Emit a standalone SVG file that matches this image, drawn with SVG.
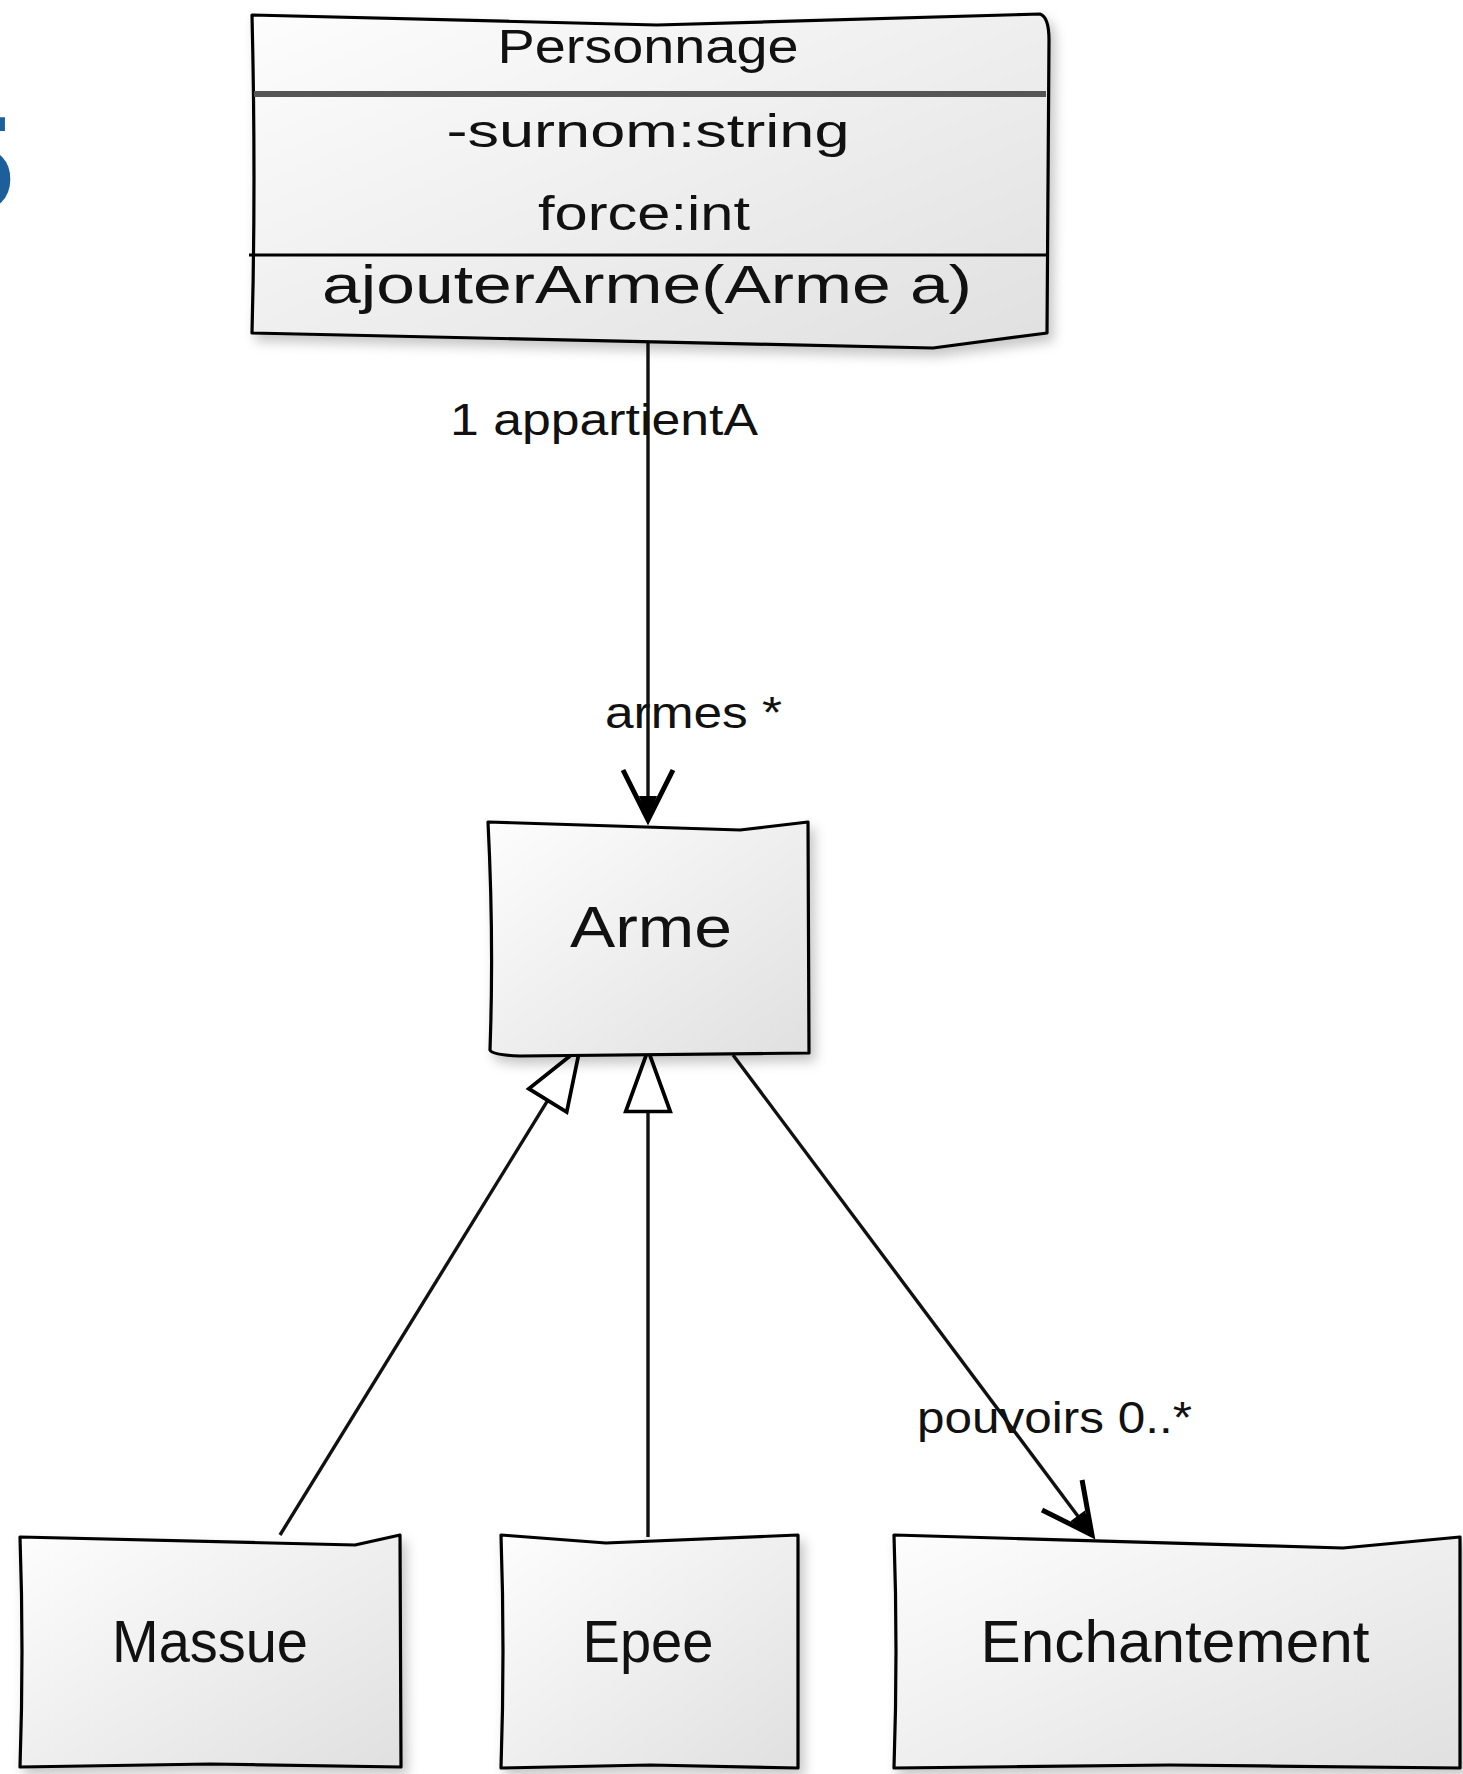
<svg xmlns="http://www.w3.org/2000/svg" width="1463" height="1774" viewBox="0 0 1463 1774">
<defs>
  <linearGradient id="fillGrad" x1="0" y1="0" x2="1" y2="1">
    <stop offset="0" stop-color="#fdfdfd"/>
    <stop offset="1" stop-color="#e0e0e0"/>
  </linearGradient>
  <filter id="shadow" x="-10%" y="-10%" width="125%" height="125%">
    <feDropShadow dx="5" dy="7" stdDeviation="6" flood-color="#000" flood-opacity="0.22"/>
  </filter>
  <marker id="openArrow" markerUnits="userSpaceOnUse" orient="auto" refX="0" refY="0" markerWidth="60" markerHeight="60" viewBox="-55 -30 60 60" overflow="visible">
    <path d="M-50,-25 L0,0 L-50,25" fill="none" stroke="#000" stroke-width="5" stroke-linejoin="miter"/>
    <path d="M-24,-9 L0,0 L-24,9 Z" fill="#000"/>
  </marker>
  <marker id="hollowTri" markerUnits="userSpaceOnUse" orient="auto" refX="0" refY="0" markerWidth="70" markerHeight="60" viewBox="-62 -26 66 52" overflow="visible">
    <path d="M0,0 L-58,-21 L-58,21 Z" fill="#fff" stroke="#000" stroke-width="3.5" stroke-linejoin="miter"/>
  </marker>
</defs>
<style>
  .box { fill: url(#fillGrad); stroke: #000; stroke-width: 3.2; stroke-linejoin: round; filter: url(#shadow); }
  .sep { stroke: #000; stroke-width: 3.2; fill: none; }
  .sepThick { stroke: #555; stroke-width: 6; fill: none; }
  .t { font-family: "Liberation Sans", "Open Sans", sans-serif; fill: #111; }
  .c { text-anchor: middle; }
  .edge { stroke: #111; stroke-width: 3.4; fill: none; }
  .lbl { font-family: "Liberation Sans", "Open Sans", sans-serif; fill: #111; font-size: 44px; }
</style>
<rect x="0" y="0" width="1463" height="1774" fill="#fff"/>

<text x="14" y="210" font-family="Liberation Sans, sans-serif" font-weight="bold" font-size="134" fill="#1d5f9b" text-anchor="end">5</text>

<g id="connectors">
  <path class="edge" d="M648,338 L648,820" marker-end="url(#openArrow)"/>
  <path class="edge" d="M280,1535 L580,1048" marker-end="url(#hollowTri)"/>
  <path class="edge" d="M648,1537 L648,1050" marker-end="url(#hollowTri)"/>
  <path class="edge" d="M733,1055 L1092,1535" marker-end="url(#openArrow)"/>
  <text class="lbl" x="450" y="435" textLength="308" lengthAdjust="spacingAndGlyphs">1 appartientA</text>
  <text class="lbl" x="605" y="728" textLength="177" lengthAdjust="spacingAndGlyphs">armes *</text>
  <text class="lbl" x="917" y="1433" textLength="275" lengthAdjust="spacingAndGlyphs">pouvoirs 0..*</text>
</g>

<g id="Personnage">
  <path class="box" d="M252,15 L657,25 L1040,14 Q1049,17 1049,40 L1047,333 L933,348 L252,333 Q256,180 252,15 Z"/>
  <path class="sepThick" d="M254,94 L1046,94"/>
  <path class="sep" d="M249,255 L1047,255"/>
  <text class="t c" x="648" y="63" font-size="48" textLength="301" lengthAdjust="spacingAndGlyphs">Personnage</text>
  <text class="t c" x="648" y="147" font-size="46" textLength="403" lengthAdjust="spacingAndGlyphs">-surnom:string</text>
  <text class="t c" x="644" y="230" font-size="48" textLength="212" lengthAdjust="spacingAndGlyphs">force:int</text>
  <text class="t c" x="647" y="303" font-size="54" textLength="650" lengthAdjust="spacingAndGlyphs">ajouterArme(Arme a)</text>
</g>

<g id="Arme">
  <path class="box" d="M488,822 L740,830 L808,822 L809,1053 L520,1056 Q492,1055 490,1050 Q494,940 488,822 Z"/>
  <text class="t c" x="651" y="947" font-size="58" textLength="162" lengthAdjust="spacingAndGlyphs">Arme</text>
</g>

<g id="Massue">
  <path class="box" d="M20,1537 L355,1545 L400,1535 L401,1767 L210,1764 L20,1767 Q24,1650 20,1537 Z"/>
  <text class="t c" x="210" y="1662" font-size="60" textLength="196" lengthAdjust="spacingAndGlyphs">Massue</text>
</g>

<g id="Epee">
  <path class="box" d="M501,1535 L606,1543 L798,1535 L798,1768 L650,1765 L501,1768 Q505,1650 501,1535 Z"/>
  <text class="t c" x="648" y="1662" font-size="60" textLength="131" lengthAdjust="spacingAndGlyphs">Epee</text>
</g>

<g id="Enchantement">
  <path class="box" d="M894,1535 L1343,1548 L1460,1537 L1460,1768 L1170,1765 L894,1768 Q898,1650 894,1535 Z"/>
  <text class="t c" x="1175" y="1662" font-size="60" textLength="389" lengthAdjust="spacingAndGlyphs">Enchantement</text>
</g>
</svg>
